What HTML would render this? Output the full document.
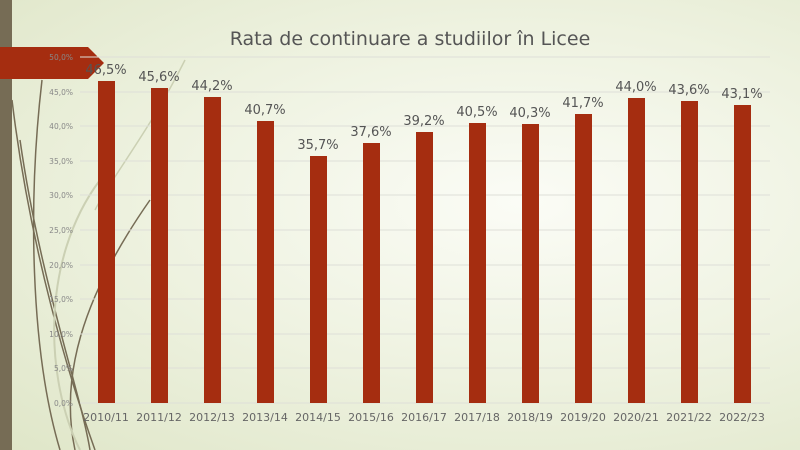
<!DOCTYPE html>
<html><head><meta charset="utf-8"><style>
html,body{margin:0;padding:0}
body{width:800px;height:450px;overflow:hidden;background:radial-gradient(ellipse at 65% 45%,#fbfcf6 0%,#eef2e0 50%,#dfe6c8 100%);font-family:"DejaVu Sans","Liberation Sans",sans-serif}
</style></head><body>
<svg width="800" height="450" viewBox="0 0 800 450" xmlns="http://www.w3.org/2000/svg" style="position:absolute;left:0;top:0">
<g fill="none" stroke="#766c55" stroke-width="1.5">
<path d="M12 100 C30 250 70 380 95 450"/>
<path d="M20 140 C40 280 80 390 90 450"/>
<path d="M42 80 C28 200 30 350 60 450"/>
<path d="M150 200 C80 300 60 380 75 450"/>
<path d="M185 60 C150 130 110 180 95 210" stroke="#cbd0b3"/>
<path d="M100 180 C40 260 45 380 80 450" stroke="#cbd0b3" stroke-width="2"/>
</g>
<rect x="0" y="0" width="12" height="450" fill="#766c55"/>
<polygon points="0,47 88,47 104,63 88,79 0,79" fill="#a52d10"/>
<text x="410" y="45" text-anchor="middle" font-size="19" fill="#555">Rata de continuare a studiilor în Licee</text>
<g stroke="#dedfd8" stroke-width="1">
<line x1="80" x2="770" y1="57" y2="57"/><line x1="80" x2="770" y1="92" y2="92"/><line x1="80" x2="770" y1="126" y2="126"/><line x1="80" x2="770" y1="161" y2="161"/><line x1="80" x2="770" y1="195" y2="195"/><line x1="80" x2="770" y1="230" y2="230"/><line x1="80" x2="770" y1="265" y2="265"/><line x1="80" x2="770" y1="299" y2="299"/><line x1="80" x2="770" y1="334" y2="334"/><line x1="80" x2="770" y1="368" y2="368"/><line x1="80" x2="770" y1="403" y2="403"/>
</g>
<g font-size="7.5" fill="#888" text-anchor="end">
<text x="73" y="60">50,0%</text><text x="73" y="95">45,0%</text><text x="73" y="129">40,0%</text><text x="73" y="164">35,0%</text><text x="73" y="198">30,0%</text><text x="73" y="233">25,0%</text><text x="73" y="268">20,0%</text><text x="73" y="302">15,0%</text><text x="73" y="337">10,0%</text><text x="73" y="371">5,0%</text><text x="73" y="406">0,0%</text>
</g>
<g fill="#a52d10">
<rect x="98" y="81" width="17" height="322"/>
<rect x="151" y="88" width="17" height="315"/>
<rect x="204" y="97" width="17" height="306"/>
<rect x="257" y="121" width="17" height="282"/>
<rect x="310" y="156" width="17" height="247"/>
<rect x="363" y="143" width="17" height="260"/>
<rect x="416" y="132" width="17" height="271"/>
<rect x="469" y="123" width="17" height="280"/>
<rect x="522" y="124" width="17" height="279"/>
<rect x="575" y="114" width="17" height="289"/>
<rect x="628" y="98" width="17" height="305"/>
<rect x="681" y="101" width="17" height="302"/>
<rect x="734" y="105" width="17" height="298"/>
</g>
<g font-size="13" fill="#555" text-anchor="middle">
<text x="106" y="74">46,5%</text><text x="159" y="81">45,6%</text><text x="212" y="90">44,2%</text><text x="265" y="114">40,7%</text><text x="318" y="149">35,7%</text><text x="371" y="136">37,6%</text><text x="424" y="125">39,2%</text><text x="477" y="116">40,5%</text><text x="530" y="117">40,3%</text><text x="583" y="107">41,7%</text><text x="636" y="91">44,0%</text><text x="689" y="94">43,6%</text><text x="742" y="98">43,1%</text>
</g>
<g font-size="11" fill="#666" text-anchor="middle">
<text x="106" y="421">2010/11</text><text x="159" y="421">2011/12</text><text x="212" y="421">2012/13</text><text x="265" y="421">2013/14</text><text x="318" y="421">2014/15</text><text x="371" y="421">2015/16</text><text x="424" y="421">2016/17</text><text x="477" y="421">2017/18</text><text x="530" y="421">2018/19</text><text x="583" y="421">2019/20</text><text x="636" y="421">2020/21</text><text x="689" y="421">2021/22</text><text x="742" y="421">2022/23</text>
</g>
</svg>
</body></html>
